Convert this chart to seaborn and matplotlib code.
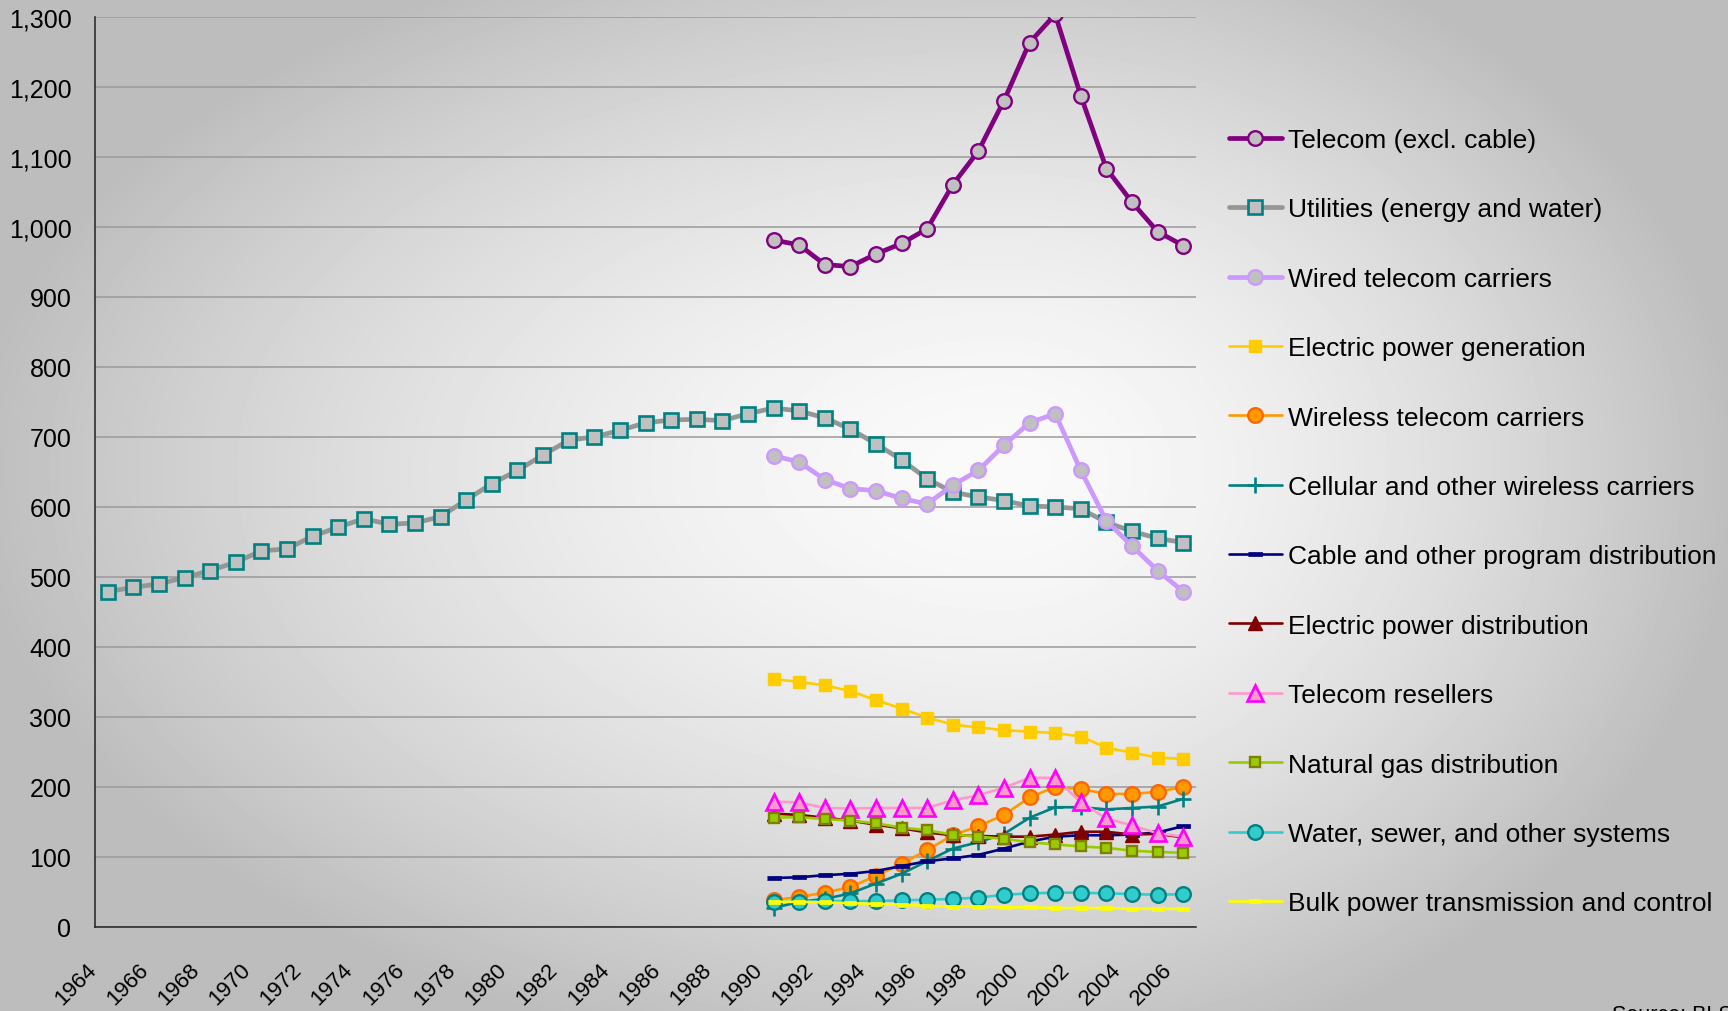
import numpy as np
import pandas as pd
import matplotlib
matplotlib.use("Agg")
import matplotlib.pyplot as plt
import matplotlib.transforms as mtransforms
from matplotlib.ticker import FuncFormatter, MultipleLocator, FixedLocator
import seaborn as sns

# Données
years_all = list(range(1964, 2007))
years_recent = list(range(1990, 2007))

utilities = [479, 485, 490, 499, 509, 521, 537, 540, 558, 571, 583, 575, 577, 586,
             610, 633, 652, 674, 695, 700, 709, 720, 724, 725, 723, 733, 741, 737,
             727, 711, 690, 667, 640, 621, 614, 609, 601, 600, 597, 578, 565, 555, 549]
telecom = [981, 974, 946, 943, 961, 976, 997, 1060, 1108, 1180, 1263, 1303, 1187,
           1083, 1035, 993, 973]
wired = [673, 664, 639, 626, 623, 612, 604, 631, 652, 688, 720, 733, 652, 580,
         544, 509, 479]
elec_generation = [354, 350, 345, 337, 324, 312, 299, 289, 285, 281, 279, 277, 272,
                   256, 249, 242, 240]
wireless = [38, 43, 49, 57, 73, 90, 110, 131, 144, 160, 185, 200, 197, 190, 190, 193, 200]
cellular = [27, 36, 40, 48, 62, 76, 94, 112, 121, 133, 156, 171, 171, 168, 170, 172, 183]
cable = [70, 71, 74, 76, 80, 87, 94, 98, 103, 112, 122, 129, 131, 131, 132, 135, 144]
elec_distribution = [162, 160, 156, 152, 146, 141, 135, 131, 130, 129, 129, 132, 136,
                     136, 132, 133, 128]
resellers = [179, 178, 170, 169, 170, 170, 170, 181, 188, 199, 213, 213, 178, 155,
             145, 134, 129]
natural_gas = [156, 157, 154, 152, 148, 142, 138, 132, 129, 126, 121, 118, 115, 113,
               109, 107, 106]
water = [36, 36, 37, 37, 37, 38, 39, 40, 42, 46, 48, 49, 49, 48, 47, 46, 47]
bulk_power = [36, 36, 35, 34, 33, 32, 30, 29, 29, 28, 28, 27, 27, 27, 26, 26, 26]

labels = [
    "Telecom (excl. cable)",
    "Utilities (energy and water)",
    "Wired telecom carriers",
    "Electric power generation",
    "Wireless telecom carriers",
    "Cellular and other wireless carriers",
    "Cable and other program distribution",
    "Electric power distribution",
    "Telecom resellers",
    "Natural gas distribution",
    "Water, sewer, and other systems",
    "Bulk power transmission and control",
]
values = [telecom, utilities, wired, elec_generation, wireless, cellular, cable,
          elec_distribution, resellers, natural_gas, water, bulk_power]
year_sets = [years_recent, years_all] + [years_recent] * 10

# Styles (façon Excel)
dash = [(-1, -0.33), (1, -0.33), (1, 0.33), (-1, 0.33)]
styles = [
    dict(color="#800080", linewidth=3.4, marker="o", markersize=10.5,
         markerfacecolor="#c0c0c0", markeredgecolor="#800080", markeredgewidth=1.7),
    dict(color="#969696", linewidth=3.4, marker="s", markersize=10,
         markerfacecolor="#c0c0c0", markeredgecolor="#008080", markeredgewidth=1.9),
    dict(color="#cc99ff", linewidth=3.4, marker="o", markersize=10.5,
         markerfacecolor="#c0c0c0", markeredgecolor="#cc99ff", markeredgewidth=1.7),
    dict(color="#ffcc00", linewidth=1.9, marker="s", markersize=9,
         markerfacecolor="#ffcc00", markeredgecolor="#ffcc00", markeredgewidth=1),
    dict(color="#ff9900", linewidth=1.9, marker="o", markersize=10.5,
         markerfacecolor="#ff9900", markeredgecolor="#ff6600", markeredgewidth=1.7),
    dict(color="#008080", linewidth=1.9, marker="+", markersize=11,
         markeredgecolor="#008080", markeredgewidth=1.9),
    dict(color="#000080", linewidth=1.9, marker=dash, markersize=9.5,
         markerfacecolor="#000080", markeredgecolor="#000080", markeredgewidth=0.5),
    dict(color="#800000", linewidth=1.9, marker="^", markersize=9.5,
         markerfacecolor="#800000", markeredgecolor="#800000", markeredgewidth=1),
    dict(color="#ff99cc", linewidth=1.9, marker="^", markersize=11,
         markerfacecolor="#ff99cc", markeredgecolor="#ff00ff", markeredgewidth=1.9),
    dict(color="#99cc00", linewidth=1.9, marker="s", markersize=7.5,
         markerfacecolor="#99cc00", markeredgecolor="#808000", markeredgewidth=1.7),
    dict(color="#33cccc", linewidth=1.9, marker="o", markersize=10.5,
         markerfacecolor="#33cccc", markeredgecolor="#008080", markeredgewidth=1.7),
    dict(color="#ffff00", linewidth=1.9, marker=dash, markersize=8.5,
         markerfacecolor="#ffff00", markeredgecolor="#ffff00", markeredgewidth=0.5),
]

W, H = 1728, 1012

sns.set_style("white")
plt.rcParams["font.family"] = ["Liberation Sans", "DejaVu Sans"]
plt.rcParams["text.color"] = "black"
plt.rcParams["xtick.color"] = "black"
plt.rcParams["ytick.color"] = "black"

fig = plt.figure(figsize=(W / 100, H / 100), dpi=100)

# fond en dégradé gris
yy, xx = np.mgrid[0:H, 0:W]
cx, cy = 1000, 470
rx = np.where(xx < cx, 950, 680)
ry = np.where(yy < cy, 520, 560)
d = np.clip(np.sqrt(((xx - cx) / rx) ** 2 + ((yy - cy) / ry) ** 2), 0, 1.2)
shade = np.clip(0.98 - 0.21 * d ** 1.6, 0.74, 1)
bg = fig.add_axes([0, 0, 1, 1], zorder=-10)
bg.imshow(shade, cmap="gray", vmin=0, vmax=1, aspect="auto", extent=[0, 1, 0, 1],
          interpolation="bilinear")
bg.axis("off")

ax_left, ax_right, ax_top, ax_bottom = 95, 1196, 17.6, 928
ax = fig.add_axes([ax_left / W, 1 - ax_bottom / H, (ax_right - ax_left) / W,
                   (ax_bottom - ax_top) / H])
ax.set_facecolor("none")

for label, yrs, vals, st in zip(labels, year_sets, values, styles):
    df = pd.DataFrame({"year": yrs, "value": vals})
    sns.lineplot(data=df, x="year", y="value", ax=ax, label=label,
                 solid_joinstyle="round", **st)

ax.set_xlim(years_all[0] - 0.5, years_all[-1] + 0.5)
ax.set_ylim(0, 1300)
ax.set_xlabel("")
ax.set_ylabel("")

ax.yaxis.set_major_locator(MultipleLocator(100))
ax.yaxis.set_major_formatter(FuncFormatter(lambda v, p: f"{v:,.0f}"))
ax.grid(axis="y", color="#9a9a9a", linewidth=1.1)
ax.grid(axis="x", visible=False)

ax.xaxis.set_major_locator(FixedLocator(years_all[::2]))
ax.xaxis.set_minor_locator(FixedLocator([y - 0.5 for y in years_all] + [years_all[-1] + 0.5]))
ax.set_xticklabels([str(y) for y in years_all[::2]])
ax.tick_params(axis="x", which="major", length=0, pad=28, labelsize=16)
ax.tick_params(axis="x", which="minor", length=7, width=1.1, color="#222222",
               direction="out")
ax.tick_params(axis="y", length=7, width=1.1, color="#222222", direction="out",
               pad=10, labelsize=18)

offset = mtransforms.ScaledTranslation(-0.14, 0, fig.dpi_scale_trans)
for t in ax.get_xticklabels():
    t.set_rotation(45)
    t.set_ha("right")
    t.set_va("center")
    t.set_rotation_mode("anchor")
    t.set_transform(t.get_transform() + offset)

for s in ["top", "right"]:
    ax.spines[s].set_visible(False)
for s in ["left", "bottom"]:
    ax.spines[s].set_color("#222222")
    ax.spines[s].set_linewidth(1.1)

ax.legend(loc="upper left", bbox_to_anchor=(1229 / W, 1 - 129 / H),
          bbox_transform=fig.transFigure, frameon=False, fontsize=19,
          handlelength=2.0, handletextpad=0.25, labelspacing=1.72,
          borderaxespad=0, borderpad=0)

# source, coupée en bas à droite comme sur l'original
fig.text(1612 / W, 1 - 1005 / H, "Source: BLS", fontsize=15.5, va="top", ha="left")

fig.savefig("out.png", dpi=100)
